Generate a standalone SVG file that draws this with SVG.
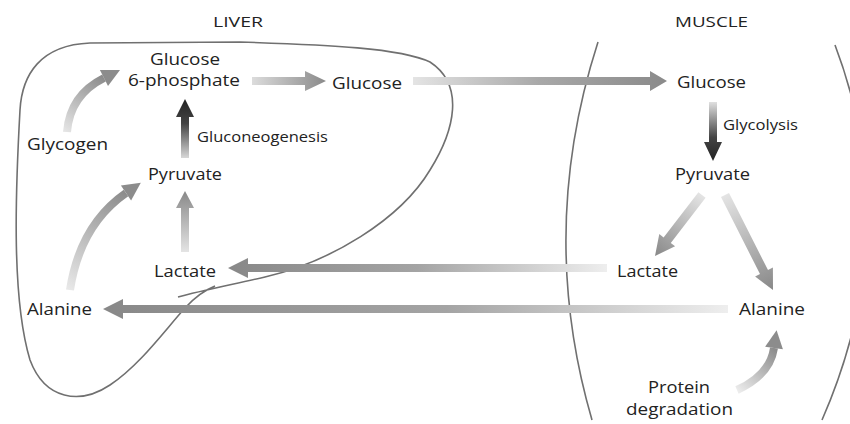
<svg xmlns="http://www.w3.org/2000/svg" width="850" height="424" viewBox="0 0 850 424">
<style>
text{font-family:"Open Sans","Noto Sans","Liberation Sans",sans-serif;fill:#222}
.n{font-size:17px}
.s{font-size:14px}
.h{font-size:15px}
.outline{fill:none;stroke:#707070;stroke-width:1.6}
.head{fill:#8c8c8c}
</style>
<defs>
<linearGradient id="gG6P" gradientUnits="userSpaceOnUse" x1="252" y1="0" x2="326" y2="0"><stop offset="0" stop-color="#dcdcdc"/><stop offset="1" stop-color="#8a8a8a"/></linearGradient>
<linearGradient id="gGlu" gradientUnits="userSpaceOnUse" x1="413" y1="0" x2="667" y2="0"><stop offset="0" stop-color="#e4e4e4"/><stop offset="0.5" stop-color="#a8a8a8"/><stop offset="1" stop-color="#8a8a8a"/></linearGradient>
<linearGradient id="gGNG" gradientUnits="userSpaceOnUse" x1="0" y1="160" x2="0" y2="99"><stop offset="0" stop-color="#e0e0e0"/><stop offset="0.6" stop-color="#444"/><stop offset="1" stop-color="#222"/></linearGradient>
<linearGradient id="gGly" gradientUnits="userSpaceOnUse" x1="0" y1="102" x2="0" y2="161"><stop offset="0" stop-color="#e0e0e0"/><stop offset="0.6" stop-color="#444"/><stop offset="1" stop-color="#222"/></linearGradient>
<linearGradient id="gLP" gradientUnits="userSpaceOnUse" x1="0" y1="252" x2="0" y2="191"><stop offset="0" stop-color="#e4e4e4"/><stop offset="1" stop-color="#888"/></linearGradient>
<linearGradient id="gLac" gradientUnits="userSpaceOnUse" x1="607" y1="0" x2="228" y2="0"><stop offset="0" stop-color="#eeeeee"/><stop offset="0.5" stop-color="#a4a4a4"/><stop offset="1" stop-color="#888"/></linearGradient>
<linearGradient id="gAla" gradientUnits="userSpaceOnUse" x1="728" y1="0" x2="103" y2="0"><stop offset="0" stop-color="#eeeeee"/><stop offset="0.45" stop-color="#a4a4a4"/><stop offset="1" stop-color="#888"/></linearGradient>
<linearGradient id="gPL" gradientUnits="userSpaceOnUse" x1="702" y1="195" x2="655" y2="256"><stop offset="0" stop-color="#e4e4e4"/><stop offset="1" stop-color="#888"/></linearGradient>
<linearGradient id="gPA" gradientUnits="userSpaceOnUse" x1="725" y1="195" x2="773" y2="290"><stop offset="0" stop-color="#e4e4e4"/><stop offset="1" stop-color="#888"/></linearGradient>
<linearGradient id="gC1" gradientUnits="userSpaceOnUse" x1="67" y1="132" x2="104" y2="78"><stop offset="0" stop-color="#e4e4e4"/><stop offset="1" stop-color="#8c8c8c"/></linearGradient>
<linearGradient id="gC2" gradientUnits="userSpaceOnUse" x1="70" y1="290" x2="126" y2="193"><stop offset="0" stop-color="#e8e8e8"/><stop offset="1" stop-color="#8c8c8c"/></linearGradient>
<linearGradient id="gC3" gradientUnits="userSpaceOnUse" x1="737" y1="390" x2="774" y2="348"><stop offset="0" stop-color="#ececec"/><stop offset="1" stop-color="#8c8c8c"/></linearGradient>
</defs>

<g id="liver-outline">
<path class="outline" d="M178,297 C200,291 230,285 265,277 C330,262 400,220 430,170 C455,130 465,85 430,62 C400,48 330,45 240,42 L90,43 C40,45 22,75 20,110 C15,200 12,300 30,360 C45,400 80,405 110,385 C140,365 165,330 185,308 C195,297 205,290 215,286"/>
</g>
<g id="muscle-outline">
<path class="outline" d="M598,42 Q537,231 592,420"/>
<path class="outline" d="M835,45 Q905,230 822,420"/>
</g>

<g id="connectors">
<path d="M67,132 Q70,95 104,78" fill="none" stroke="url(#gC1)" stroke-width="8"/>
<polygon class="head" points="108,86 99.9,70 120,70"/>
<polygon fill="url(#gG6P)" points="252,77 305,77 305,71 326,81 305,91 305,85 252,85"/>
<polygon fill="url(#gGNG)" points="181,158 181,117 176,117 185,99 194,117 189,117 189,158"/>
<polygon fill="url(#gGlu)" points="413,77 650,77 650,71 667,81 650,91 650,85 413,85"/>
<polygon fill="url(#gGly)" points="709,102 709,142 704,142 713,161 722,142 717,142 717,102"/>
<polygon fill="url(#gPL)" points="698.4,192.3 663.6,237.5 659.3,234.1 655,256 675.1,246.3 670.8,242.9 705.6,197.7"/>
<polygon fill="url(#gPA)" points="721,197 760,274.1 755.1,276.6 773,290 772.9,267.6 768,270.1 729,193"/>
<path d="M737,390 Q770,375 774,348" fill="none" stroke="url(#gC3)" stroke-width="8"/>
<polygon class="head" points="782.9,349.3 765.1,346.7 776.6,330.2"/>
<polygon fill="url(#gLac)" points="607,264 248,264 248,258 228,268 248,278 248,272 607,272"/>
<polygon fill="url(#gAla)" points="728,305 123,305 123,299 103,309 123,319 123,313 728,313"/>
<path d="M70,290 Q80,225 126,193" fill="none" stroke="url(#gC2)" stroke-width="8"/>
<polygon class="head" points="131.1,200.4 120.9,185.6 140.8,182.7"/>
<polygon fill="url(#gLP)" points="181,252 181,208 176,208 185,191 194,208 189,208 189,252"/>
</g>

<g id="label-liver"><text class="h" x="213" y="27" textLength="50" lengthAdjust="spacingAndGlyphs">LIVER</text></g>
<g id="label-muscle"><text class="h" x="675" y="27" textLength="73" lengthAdjust="spacingAndGlyphs">MUSCLE</text></g>
<g id="liver-g6p">
<text class="n" x="150" y="65" textLength="70" lengthAdjust="spacingAndGlyphs">Glucose</text>
<text class="n" x="128" y="86" textLength="112" lengthAdjust="spacingAndGlyphs">6-phosphate</text>
</g>
<g id="liver-glucose"><text class="n" x="332" y="89" textLength="70" lengthAdjust="spacingAndGlyphs">Glucose</text></g>
<g id="liver-glycogen"><text class="n" x="27" y="150" textLength="81" lengthAdjust="spacingAndGlyphs">Glycogen</text></g>
<g id="label-gluconeogenesis"><text class="s" x="197" y="142" textLength="131" lengthAdjust="spacingAndGlyphs">Gluconeogenesis</text></g>
<g id="liver-pyruvate"><text class="n" x="148" y="180" textLength="74" lengthAdjust="spacingAndGlyphs">Pyruvate</text></g>
<g id="liver-lactate"><text class="n" x="154" y="277" textLength="62" lengthAdjust="spacingAndGlyphs">Lactate</text></g>
<g id="liver-alanine"><text class="n" x="27" y="315" textLength="65" lengthAdjust="spacingAndGlyphs">Alanine</text></g>
<g id="muscle-glucose"><text class="n" x="677" y="88" textLength="69" lengthAdjust="spacingAndGlyphs">Glucose</text></g>
<g id="label-glycolysis"><text class="s" x="723" y="130" textLength="75" lengthAdjust="spacingAndGlyphs">Glycolysis</text></g>
<g id="muscle-pyruvate"><text class="n" x="675" y="180" textLength="75" lengthAdjust="spacingAndGlyphs">Pyruvate</text></g>
<g id="muscle-lactate"><text class="n" x="617" y="277" textLength="61" lengthAdjust="spacingAndGlyphs">Lactate</text></g>
<g id="muscle-alanine"><text class="n" x="739" y="315" textLength="66" lengthAdjust="spacingAndGlyphs">Alanine</text></g>
<g id="muscle-protein">
<text class="n" x="648" y="393" textLength="62" lengthAdjust="spacingAndGlyphs">Protein</text>
<text class="n" x="626" y="415" textLength="107" lengthAdjust="spacingAndGlyphs">degradation</text>
</g>
</svg>
